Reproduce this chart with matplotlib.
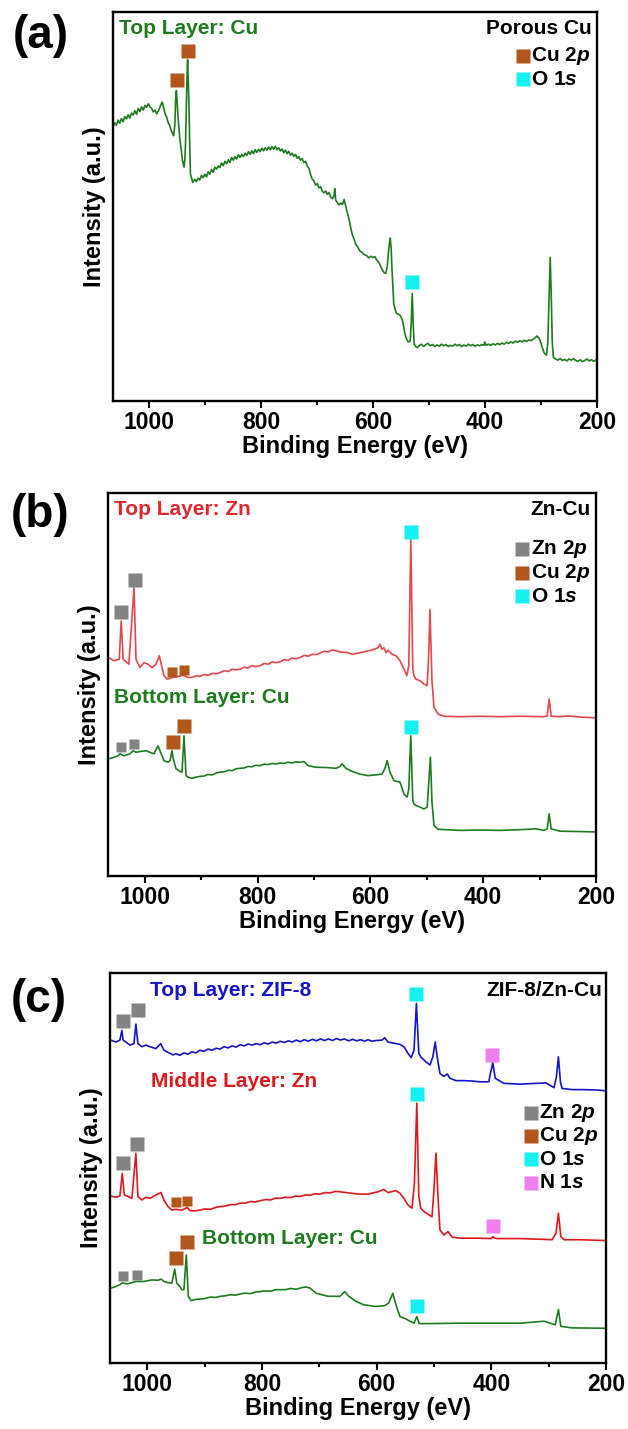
import matplotlib
matplotlib.use('Agg')
import matplotlib.pyplot as plt
from matplotlib.ticker import MultipleLocator

plt.rcParams['font.family'] = ['Liberation Sans', 'DejaVu Sans']
plt.rcParams['font.weight'] = 'bold'
plt.rcParams['axes.labelweight'] = 'bold'
plt.rcParams['mathtext.fontset'] = 'custom'
plt.rcParams['mathtext.rm'] = 'Liberation Sans:bold'
plt.rcParams['mathtext.it'] = 'Liberation Sans:italic:bold'

# ---- (a) porous Cu, survey spectrum ----
a_cu_ev = [1065, 1062, 1059, 1056, 1053, 1050, 1047, 1044, 1041, 1038,
           1035, 1032, 1029, 1026, 1023, 1020, 1017, 1014, 1011, 1008,
           1005, 1002, 999, 996, 993, 990, 987, 984, 981, 978,
           976.8, 974, 971.8, 969, 966.8, 964, 961, 958.5, 956.8, 954.5,
           953.2, 951.8, 950.6, 949.6, 947.5, 945.3, 943, 941, 938.1, 936.5,
           935.3, 933.5, 932.4, 931.7, 930.6, 929.5, 928, 926.7, 924.5, 922.4,
           919, 916, 913, 910, 907, 904, 901, 898, 895, 892,
           889, 886, 883, 880, 877, 874, 871, 868, 865, 862,
           859, 856, 853, 850, 847, 844, 841, 838, 835, 832,
           829, 826, 823, 820, 817, 814, 811, 808, 805, 802,
           799, 796, 793, 790, 787, 784, 781, 778, 775, 772,
           769, 766, 763, 760, 757, 754, 751, 748, 745, 742,
           739, 736, 733, 730, 727, 724, 721, 718, 715, 712,
           709, 706, 703, 700, 697, 694, 691, 688, 685, 682,
           679, 676, 673, 670, 668.7, 667, 664, 661, 658, 655,
           652, 650, 647.2, 644, 642, 639.5, 637, 634, 631.4, 628,
           624.2, 620, 616, 612, 608, 604, 600, 597, 593.5, 590,
           586, 583, 580, 577.6, 575, 572.6, 569.7, 568, 566.9, 565,
           563.3, 560, 558.3, 555, 552.6, 550, 548.3, 546, 543.9, 541,
           538.2, 535.5, 533.9, 532, 530.3, 528.5, 526.8, 524, 521.1, 518,
           514, 510, 506, 502, 498, 494, 490, 486, 482, 478,
           474, 470, 466, 462, 458, 454, 450, 446, 442, 438,
           434, 430, 426, 422, 418, 414, 410, 406, 402, 400.6,
           398, 394, 390, 386, 382, 378, 374, 370, 366, 362,
           358, 354, 350, 346, 342, 338, 334, 330, 326, 322,
           318, 314, 310, 307.5, 304, 301.7, 298, 294.6, 290.3, 288,
           285.9, 283.7, 281.6, 280, 278, 274, 270, 266, 262, 258,
           254, 250, 246, 242, 238, 234, 230, 226, 222, 218,
           214, 210, 206, 202, 200]
a_cu_int = [70.4, 71.5, 70.9, 72.2, 71.4, 72.6, 71.8, 73.1, 72.5, 73.6,
            72.7, 74.0, 73.5, 74.6, 73.7, 75.2, 74.4, 75.6, 74.8, 76.0,
            75.5, 76.4, 75.6, 75.2, 74.3, 74.8, 73.8, 74.6, 75.6, 76.6,
            76.8, 75.0, 73.8, 72.9, 71.7, 70.9, 69.5, 68.8, 68.2, 71.0,
            77.3, 79.8, 77.5, 74.7, 70.5, 67.0, 64.5, 61.8, 60.1, 62.5,
            67.0, 78.0, 85.8, 87.7, 82.0, 77.3, 66.0, 58.4, 57.2, 56.2,
            57.0, 56.4, 57.3, 56.8, 58.0, 57.4, 58.3, 57.6, 58.9, 58.3,
            59.5, 58.8, 60.1, 59.6, 60.4, 60.0, 61.2, 60.5, 61.6, 61.0,
            62.0, 61.3, 62.6, 61.9, 62.8, 62.2, 63.3, 62.6, 63.4, 62.8,
            63.7, 63.1, 64.1, 63.4, 64.3, 63.6, 64.6, 63.9, 64.7, 64.1,
            65.0, 64.3, 65.1, 64.5, 65.3, 64.6, 65.4, 64.7, 65.5, 64.6,
            65.1, 64.3, 64.8, 63.8, 64.5, 63.6, 64.2, 63.2, 63.7, 62.9,
            63.4, 62.4, 62.8, 61.9, 62.3, 61.3, 61.6, 60.4, 59.8, 58.2,
            57.0, 56.6, 55.5, 55.9, 54.8, 55.1, 53.9, 53.5, 54.0, 53.1,
            53.6, 52.4, 52.0, 52.8, 54.6, 51.6, 51.0, 50.4, 50.9, 50.5,
            51.8, 50.6, 48.9, 47.2, 45.9, 44.0, 42.5, 41.6, 40.3, 39.7,
            38.6, 38.2, 37.6, 37.4, 36.8, 37.2, 36.9, 37.1, 36.2, 35.6,
            34.4, 33.5, 32.9, 32.8, 34.5, 38.6, 41.9, 39.5, 35.2, 29.5,
            24.9, 23.2, 22.5, 22.3, 22.1, 21.5, 21.0, 19.5, 17.6, 16.2,
            15.3, 15.2, 15.5, 20.5, 27.6, 19.5, 14.6, 14.0, 13.7, 14.2,
            14.6, 14.0, 14.5, 14.8, 14.2, 14.5, 14.0, 14.4, 14.1, 14.6,
            14.2, 14.5, 14.0, 14.3, 14.1, 14.6, 14.2, 14.5, 14.0, 14.4,
            14.1, 14.6, 14.2, 14.5, 14.1, 14.4, 14.2, 14.5, 14.3, 15.2,
            14.3, 14.6, 14.3, 14.7, 14.4, 14.8, 14.5, 14.9, 14.6, 15.1,
            14.8, 15.2, 14.9, 15.4, 15.1, 15.5, 15.2, 15.6, 15.3, 15.7,
            15.5, 15.9, 16.3, 16.7, 16.2, 15.5, 13.8, 12.4, 11.8, 15.0,
            25.8, 36.9, 25.8, 15.0, 11.2, 10.8, 10.5, 10.9, 10.4, 10.7,
            10.3, 10.8, 10.5, 10.9, 10.4, 10.2, 10.6, 10.1, 10.4, 10.8,
            10.3, 10.6, 10.2, 10.5, 10.3]
a_cu_peaks = [('Cu', 950.3, 82.4), ('Cu', 931.7, 90.1), ('O', 530.3, 30.5)]

# ---- (b) Zn-Cu, top and bottom layers ----
b_zn_ev = [1063.6, 1054.4, 1045.1, 1041.6, 1038.1, 1031, 1028.1, 1018.9, 1015.4, 1008.3,
           1001.2, 994.1, 987, 979.9, 974.2, 969.3, 965.7, 960.1, 955.1, 951.6,
           930.3, 923.2, 915, 908, 902, 895, 888, 880, 873, 866.5,
           859, 852, 845, 838, 831, 824, 817, 810, 803, 795.6,
           788, 781, 774, 767, 760, 753, 746, 739, 732, 724.7,
           717, 710, 703, 696, 689, 682, 675, 668, 660.9, 653.8,
           639.6, 632.5, 618.3, 597.1, 586.4, 582.9, 579.3, 575.8, 572.3, 568.7,
           561.6, 554.5, 547.4, 540.3, 535.4, 531.8, 528.3, 524.7, 522.6, 519.1,
           512, 504.9, 499.2, 496.4, 494.3, 490.7, 487.2, 480.1, 469.4, 441.1,
           405.6, 370.2, 334.7, 292.2, 286.5, 283, 279.4, 263.8, 249.6, 228.4,
           200]
b_zn_int = [57.0, 56.2, 56.6, 66.6, 56.6, 55.7, 55.3, 75.3, 56.6, 54.4,
            55.7, 55.3, 54.4, 55.3, 57.5, 54.4, 52.3, 51.4, 51.6, 51.8,
            52.4, 51.8, 51.9, 52.3, 52.1, 52.6, 52.4, 52.9, 52.8, 53.1,
            53.6, 53.4, 54.0, 53.8, 54.0, 54.5, 54.3, 54.9, 54.7, 54.9,
            55.5, 55.3, 55.9, 55.7, 55.9, 56.5, 56.3, 56.9, 56.7, 57.0,
            57.6, 57.4, 57.9, 57.8, 58.2, 58.7, 58.5, 59.0, 58.8, 58.5,
            58.3, 57.9, 58.3, 59.0, 59.6, 60.5, 59.2, 59.6, 58.3, 59.0,
            57.9, 57.5, 56.2, 54.0, 52.3, 54.9, 87.8, 54.0, 52.3, 51.4,
            51.0, 50.1, 49.7, 58.3, 69.6, 51.0, 44.0, 42.3, 41.7, 41.6,
            41.7, 41.6, 41.7, 41.6, 41.8, 46.2, 41.7, 41.6, 41.8, 41.5,
            41.3]
b_zn_peaks = [('Zn', 1041.6, 68.8), ('Zn', 1016.8, 77.4), ('Cu', 951.6, 53.3),
              ('Cu', 930.3, 53.7), ('O', 528.3, 89.8)]

b_cu_ev = [1063.6, 1054.4, 1047.3, 1043.7, 1036.6, 1026, 1020.3, 1015.4, 1008.3, 997.6,
           990.6, 983.5, 976.4, 969.3, 965.7, 958.7, 955.1, 951.6, 949.4, 944.5,
           937.4, 933.8, 930.3, 926.7, 923.2, 916.1, 909, 902, 895, 888,
           880, 873, 866.5, 859, 852, 845, 838, 831, 824, 817,
           810, 803, 795.6, 788, 781, 774, 767, 760, 753, 746,
           739, 732, 724.7, 717.6, 710.5, 696.3, 675.1, 660.9, 653.8, 650.2,
           643.1, 632.5, 618.3, 604.2, 590, 579.3, 574.4, 570.1, 565.2, 558.1,
           547.4, 540.3, 534.7, 531.8, 528.3, 524.7, 522.6, 519.1, 512, 504.9,
           499.2, 496.4, 493.5, 490.7, 487.2, 480.1, 441.1, 405.6, 370.2, 334.7,
           306.4, 292.2, 286.5, 283, 279.4, 263.8, 228.4, 200]
b_cu_int = [30.6, 31.0, 31.4, 31.9, 31.4, 31.9, 32.7, 32.3, 32.5, 32.7,
            32.3, 31.9, 34.0, 31.4, 30.1, 29.7, 30.1, 32.7, 30.6, 28.0,
            27.3, 27.1, 36.6, 26.2, 25.8, 25.5, 25.8, 26.0, 26.1, 26.5,
            26.4, 26.9, 27.1, 27.2, 27.6, 27.5, 28.0, 28.1, 28.2, 28.6,
            28.5, 28.9, 28.8, 29.2, 29.1, 29.4, 29.2, 29.5, 29.4, 29.7,
            29.5, 29.8, 29.7, 29.9, 28.8, 28.4, 28.3, 28.1, 28.6, 29.3,
            28.1, 27.3, 26.6, 26.2, 26.4, 26.6, 28.0, 30.1, 27.1, 24.9,
            24.5, 21.4, 20.6, 22.7, 36.6, 19.7, 18.8, 18.4, 18.0, 17.5,
            18.0, 24.5, 31.0, 19.3, 13.2, 12.2, 11.9, 12.0, 11.9, 12.1,
            12.3, 11.9, 12.3, 16.2, 12.3, 11.7, 11.6, 11.5]
b_cu_peaks = [('Zn', 1042.3, 33.8), ('Zn', 1018.9, 34.5), ('Cu', 949.4, 34.9),
              ('Cu', 929.6, 39.2), ('O', 528.3, 38.8)]

# ---- (c) ZIF-8/Zn-Cu, three layers ----
c_zif_ev = [1063.6, 1054.5, 1047.6, 1044.1, 1042, 1037.1, 1030.1, 1023.1, 1019.7, 1016.2,
            1009.2, 1002.2, 995.2, 984.8, 976.4, 970.8, 960.4, 955, 949.9, 943,
            936, 929, 922, 915, 908, 901, 894, 887, 880, 873,
            866, 859, 852, 845, 838, 831, 824, 817, 810, 803,
            796, 789, 782, 775, 768, 761, 754, 747, 740, 733,
            726, 719, 712, 705, 698, 691, 684, 677, 670, 663,
            656, 649, 642, 635, 628, 621, 615, 608, 601, 590.6,
            585.7, 580.2, 573.2, 566.2, 559.2, 552.3, 545.3, 539.7, 534.8, 530.6,
            526.4, 523, 513.9, 506.9, 502, 497.8, 494.4, 489.5, 482.5, 476.9,
            472, 461.6, 447.6, 433.7, 419.7, 404.4, 401.6, 397.4, 393.2, 377.9,
            349.9, 322.1, 304.6, 297.6, 290.7, 286.5, 283, 279.5, 276.7, 259.3,
            238.4, 217.4, 200]
c_zif_int = [82.8, 82.3, 82.8, 85.3, 82.8, 82.3, 81.5, 81.9, 86.9, 81.9,
             81.1, 81.5, 81.1, 80.6, 81.9, 80.2, 79.4, 79.0, 79.3, 78.9,
             79.5, 79.2, 79.8, 79.5, 80.2, 79.9, 80.5, 80.2, 80.7, 80.5,
             81.1, 80.8, 81.3, 81.0, 81.6, 81.3, 81.8, 81.5, 81.9, 81.6,
             82.1, 81.8, 82.3, 82.0, 82.5, 82.2, 82.6, 82.3, 82.8, 82.4,
             82.9, 82.5, 83.0, 82.6, 83.1, 82.7, 83.1, 82.7, 83.2, 82.8,
             83.1, 82.6, 83.0, 82.6, 82.9, 82.5, 82.9, 82.5, 82.7, 82.8,
             83.4, 82.3, 82.1, 81.9, 81.7, 81.1, 79.4, 78.3, 80.2, 92.2,
             79.4, 78.5, 77.2, 76.4, 78.5, 82.3, 78.5, 74.2, 73.5, 74.1,
             73.0, 72.4, 72.4, 72.3, 72.1, 72.1, 74.2, 77.0, 73.0, 71.7,
             71.5, 71.7, 71.8, 71.2, 70.6, 73.4, 78.5, 72.1, 70.4, 70.1,
             70.1, 70.0, 69.8]
c_zif_peaks = [('Zn', 1042, 87.7), ('Zn', 1016.2, 90.4), ('O', 530.6, 94.5), ('N', 398.1, 79.1)]

c_zn_ev = [1063.6, 1054.5, 1047.6, 1043.4, 1039.9, 1033.6, 1026.6, 1019.7, 1016.2, 1009.2,
           1002.2, 995.2, 984.8, 975.7, 970.8, 963.8, 956.9, 949.9, 939.4, 930.4,
           925.5, 918, 908, 900, 890, 880, 873, 865, 855, 846,
           838, 829, 820, 811, 803, 794, 785, 776, 768, 759,
           750, 742, 733, 724, 716, 707, 698.8, 690, 681, 672,
           663.9, 643, 629, 615.1, 597.6, 587.1, 580.2, 566.2, 559.2, 552.3,
           545.3, 538.3, 534.1, 529.9, 526.4, 523, 517.4, 509, 503.4, 500,
           496.5, 493, 489.5, 482.5, 475.5, 468.5, 454.6, 419.7, 400.2, 397.4,
           391.8, 349.9, 308.1, 294.1, 287.2, 283, 278.8, 273.2, 245.3, 200]
c_zn_int = [42.8, 42.5, 42.8, 48.6, 43.1, 42.7, 42.2, 53.8, 42.7, 41.8,
            42.5, 42.2, 43.1, 43.7, 41.8, 40.1, 39.2, 39.4, 39.2, 39.9,
            39.1, 39.0, 39.2, 39.5, 39.4, 39.9, 40.1, 40.2, 40.6, 40.6,
            41.0, 41.0, 41.4, 41.3, 41.6, 41.9, 41.8, 42.3, 42.2, 42.5,
            42.4, 42.8, 42.7, 43.1, 43.0, 43.4, 43.3, 43.7, 43.6, 44.0,
            43.9, 43.5, 43.3, 43.3, 43.9, 44.5, 43.7, 44.2, 43.5, 42.2,
            40.5, 39.7, 46.1, 66.6, 42.7, 39.7, 38.8, 38.0, 37.5, 44.4,
            53.8, 42.7, 34.1, 32.8, 33.7, 32.3, 32.0, 32.0, 31.9, 32.4,
            31.9, 31.9, 31.7, 31.6, 33.3, 38.4, 32.4, 31.6, 31.6, 31.4]
c_zn_peaks = [('Zn', 1042, 51.2), ('Zn', 1017.6, 56.1), ('Cu', 949.9, 41.2),
              ('Cu', 930.4, 41.5), ('O', 529.2, 68.9), ('N', 396.7, 35.2)]

c_cu_ev = [1063.6, 1054.5, 1047.6, 1044.1, 1033.6, 1019.7, 1005.7, 991.8, 981.3, 975.7,
           970.8, 963.8, 956.9, 952, 948.5, 942.9, 939.4, 935.9, 931.8, 928.3,
           923.4, 915, 908, 900, 890, 880, 873, 865, 855, 846,
           838, 829, 820, 811, 803, 794, 785, 776, 768, 759,
           750, 740, 731, 723.2, 716.2, 705.7, 684.8, 663.9, 655.5, 648.5,
           636, 622, 601.1, 585.7, 578.8, 571.8, 566.2, 559.2, 548.8, 541.8,
           534.8, 529.9, 525.8, 510.4, 454.6, 384.8, 349.9, 308.1, 297.6, 288.6,
           283, 278.8, 259.3, 200]
c_cu_int = [19.2, 19.6, 20.1, 20.5, 20.3, 20.9, 20.9, 21.3, 21.2, 21.5,
            20.9, 20.6, 20.5, 24.1, 20.5, 19.6, 18.8, 18.8, 27.7, 17.1,
            16.0, 16.3, 16.4, 16.5, 16.9, 16.8, 17.1, 17.2, 17.5, 17.4,
            17.7, 17.9, 17.8, 18.2, 18.3, 18.5, 18.4, 18.8, 18.8, 18.8,
            19.1, 18.9, 19.3, 19.5, 19.2, 17.9, 17.1, 17.1, 18.3, 17.1,
            15.8, 14.9, 14.5, 14.7, 15.4, 17.9, 14.9, 11.9, 11.3, 10.7,
            10.2, 11.9, 10.1, 10.1, 10.2, 10.2, 10.2, 10.7, 10.2, 9.8,
            13.7, 9.4, 9.0, 8.9]
c_cu_peaks = [('Zn', 1042.7, 22.2), ('Zn', 1018.3, 22.5), ('Cu', 949.9, 26.9),
              ('Cu', 930.4, 30.9), ('O', 529.9, 14.7)]

GREEN = '#1e7b1e'
RED_B = '#e2474b'
RED_C = '#e0181d'
BLUE = '#1414c8'
mark_color = {'Zn': '#838383', 'Cu': '#b3561b', 'O': '#17f0f0', 'N': '#f07ef0'}
mark_label = {'Zn': r'Zn 2$\mathit{p}$', 'Cu': r'Cu 2$\mathit{p}$',
              'O': r'O 1$\mathit{s}$', 'N': r'N 1$\mathit{s}$'}


def setup(ax, xmax):
    ax.set_xlim(xmax, 200)
    ax.set_ylim(0, 100)
    ax.set_yticks([])
    ax.xaxis.set_major_locator(MultipleLocator(200))
    ax.xaxis.set_minor_locator(MultipleLocator(100))
    ax.tick_params(axis='x', which='major', direction='out', length=5, width=1.5,
                   labelsize=16.5, pad=2)
    ax.tick_params(axis='x', which='minor', direction='out', length=3, width=1.5)
    for s in ax.spines.values():
        s.set_linewidth(1.7)
    ax.set_xlabel('Binding Energy (eV)', fontsize=17, labelpad=1)
    ax.set_ylabel('Intensity (a.u.)', fontsize=17, labelpad=5)


def trace(ax, ev, inten, color, peaks, minor=()):
    ax.plot(ev, inten, color=color, lw=1.2)
    for el, x, y in peaks:
        ax.plot(x, y, 's', color=mark_color[el], ms=7 if el in minor else 10,
                mec='none')


def key(ax, elements, x, y0, dy):
    for i, el in enumerate(elements):
        y = y0 - i * dy
        ax.plot(x, y, 's', color=mark_color[el], ms=10, mec='none',
                transform=ax.transAxes, clip_on=False)
        ax.text(x + 0.017, y, mark_label[el], fontsize=15, transform=ax.transAxes,
                ha='left', va='center')


fig = plt.figure(figsize=(6.28, 14.29), dpi=100)

# (a)
ax = fig.add_axes([0.180, 0.7194, 0.7707, 0.2722])
setup(ax, 1065)
trace(ax, a_cu_ev, a_cu_int, GREEN, a_cu_peaks)
ax.text(0.012, 0.958, 'Top Layer: Cu', color=GREEN, fontsize=15,
        transform=ax.transAxes, va='center')
ax.text(0.99, 0.958, 'Porous Cu', fontsize=15, transform=ax.transAxes,
        ha='right', va='center')
key(ax, ['Cu', 'O'], 0.846, 0.888, 0.061)
fig.text(41 / 628, 1 - 36 / 1429, '(a)', fontsize=33, ha='center', va='center')

# (b)
ax = fig.add_axes([0.172, 0.387, 0.777, 0.268])
setup(ax, 1065)
trace(ax, b_zn_ev, b_zn_int, RED_B, b_zn_peaks, minor=('Cu',))
trace(ax, b_cu_ev, b_cu_int, GREEN, b_cu_peaks, minor=('Zn',))
ax.text(0.012, 0.957, 'Top Layer: Zn', color='#e0262c', fontsize=15,
        transform=ax.transAxes, va='center')
ax.text(0.99, 0.957, 'Zn-Cu', fontsize=15, transform=ax.transAxes,
        ha='right', va='center')
ax.text(0.012, 0.466, 'Bottom Layer: Cu', color=GREEN, fontsize=15,
        transform=ax.transAxes, va='center')
key(ax, ['Zn', 'Cu', 'O'], 0.849, 0.853, 0.061)
fig.text(40 / 628, 1 - 515 / 1429, '(b)', fontsize=33, ha='center', va='center')

# (c)
ax = fig.add_axes([0.175, 0.0462, 0.790, 0.2729])
setup(ax, 1065)
trace(ax, c_zif_ev, c_zif_int, BLUE, c_zif_peaks)
trace(ax, c_zn_ev, c_zn_int, RED_C, c_zn_peaks, minor=('Cu',))
trace(ax, c_cu_ev, c_cu_int, GREEN, c_cu_peaks, minor=('Zn',))
ax.text(0.081, 0.956, 'Top Layer: ZIF-8', color=BLUE, fontsize=15,
        transform=ax.transAxes, va='center')
ax.text(0.992, 0.956, 'ZIF-8/Zn-Cu', fontsize=15, transform=ax.transAxes,
        ha='right', va='center')
ax.text(0.083, 0.723, 'Middle Layer: Zn', color=RED_C, fontsize=15,
        transform=ax.transAxes, va='center')
ax.text(0.185, 0.32, 'Bottom Layer: Cu', color=GREEN, fontsize=15,
        transform=ax.transAxes, va='center')
key(ax, ['Zn', 'Cu', 'O', 'N'], 0.848, 0.642, 0.06)
fig.text(39 / 628, 1 - 1000 / 1429, '(c)', fontsize=33, ha='center', va='center')

fig.savefig('out.png', dpi=100)
